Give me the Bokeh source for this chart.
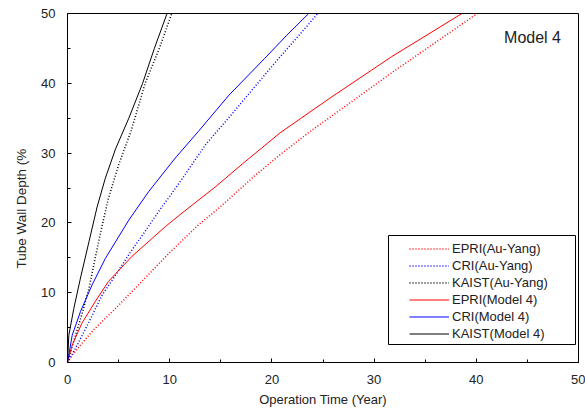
from bokeh.plotting import figure
from bokeh.models import Range1d, Legend, LegendItem, Label, FixedTicker, BoxAnnotation, Title
from bokeh.embed import file_html
from bokeh.resources import INLINE

# ---- data (time in years, depth in %) ----
epri_ay_t = [0, 0.46, 1.27, 2.7, 4.7, 6.8, 9.9, 12.8, 14.95, 18.2, 20.65, 23.65, 32.0, 40.1]
epri_ay_d = [0, 1.05, 2.5, 4.9, 7.75, 10.9, 15.6, 19.7, 22.3, 26.6, 29.6, 33.0, 41.8, 50]

cri_ay_t = [0, 0.95, 2.1, 3.4, 4.7, 6.2, 7.6, 8.9, 10.1, 11.4, 13.5, 15.8, 20.07, 24.5]
cri_ay_d = [0, 2.5, 5.8, 9.7, 12.5, 15.9, 18.8, 21.6, 24.0, 26.7, 31.2, 35.1, 42.55, 50]

kaist_ay_t = [0, 0.3, 0.78, 1.43, 2.1, 2.7, 3.4, 4.0, 5.0, 6.2, 7.6, 8.99, 10.2]
kaist_ay_d = [0, 1.5, 3.9, 7.0, 10.6, 14.9, 19.7, 23.5, 28.3, 33.1, 40, 45, 50]

epri_m4_t = [0, 0.46, 1.4, 2.7, 4.0, 6.3, 9.6, 11.2, 14.5, 17.4, 20.8, 25.6, 31.7, 38.6]
epri_m4_d = [0, 2.5, 5.6, 8.7, 11.6, 15.2, 19.5, 21.4, 25.2, 28.8, 32.9, 37.8, 43.8, 50]

cri_m4_t = [0, 0.46, 1.27, 2.4, 3.7, 6.0, 7.95, 10.55, 12.8, 15.8, 19.25, 21.4, 23.6]
cri_m4_d = [0, 3.9, 7.3, 11.1, 14.9, 20.4, 24.5, 29.3, 33.1, 38.3, 43.5, 46.8, 50]

kaist_m4_t = [0, 0.13, 0.62, 1.27, 2.1, 2.9, 3.7, 4.7, 6.0, 7.35, 8.5, 9.74]
kaist_m4_d = [0, 3.9, 7.75, 12.1, 17.3, 22.3, 26.4, 30.6, 35, 40, 45, 50]

series_labels = ["EPRI(Au-Yang)", "CRI(Au-Yang)", "KAIST(Au-Yang)",
                 "EPRI(Model 4)", "CRI(Model 4)", "KAIST(Model 4)"]
x_ticks = [0, 10, 20, 30, 40, 50]
y_ticks = [0, 10, 20, 30, 40, 50]
minor_ticks = [5, 15, 25, 35, 45]

FONT = "Liberation Sans"
TXT = "#222222"

p = figure(width=585, height=413, output_backend="svg", toolbar_location=None,
           x_range=Range1d(0, 50), y_range=Range1d(0, 50),
           min_border_left=67, min_border_right=7, min_border_top=13, min_border_bottom=51)
p.background_fill_color = "white"
p.border_fill_color = "white"
p.outline_line_color = "black"
p.outline_line_width = 1
p.grid.visible = False

for ax in (p.xaxis[0], p.yaxis[0]):
    ax.axis_line_color = "black"
    ax.major_tick_in = 4
    ax.major_tick_out = 0
    ax.minor_tick_in = 3
    ax.minor_tick_out = 0
    ax.major_tick_line_color = "black"
    ax.minor_tick_line_color = "black"
    ax.major_label_text_font = FONT
    ax.major_label_text_font_size = "13px"
    ax.major_label_text_color = TXT
    ax.axis_label_text_font = FONT
    ax.axis_label_text_font_size = "13px"
    ax.axis_label_text_font_style = "normal"
    ax.axis_label_text_color = TXT

p.xaxis[0].ticker = FixedTicker(ticks=x_ticks, minor_ticks=minor_ticks)
p.yaxis[0].ticker = FixedTicker(ticks=y_ticks, minor_ticks=minor_ticks)

p.xaxis.axis_label = "Operation Time (Year)"
p.xaxis.major_label_standoff = 12
p.xaxis.axis_label_standoff = 5
p.yaxis.major_label_standoff = 12

# y-axis title as a side title, so its position along the axis can be set
p.add_layout(Title(text="Tube Wall Depth (%", align="left", offset=94, standoff=20,
                   text_font=FONT, text_font_size="13.5px", text_font_style="normal",
                   text_color=TXT), "left")

r1 = p.line(epri_ay_t, epri_ay_d, line_color="#ff0000", line_width=1.5, line_dash="1 2")
r2 = p.line(cri_ay_t, cri_ay_d, line_color="#0000ff", line_width=1.5, line_dash="1 2")
r3 = p.line(kaist_ay_t, kaist_ay_d, line_color="black", line_width=1.5, line_dash="1 2")
r4 = p.line(epri_m4_t, epri_m4_d, line_color="#ff0000", line_width=1)
r5 = p.line(cri_m4_t, cri_m4_d, line_color="#0000ff", line_width=1)
r6 = p.line(kaist_m4_t, kaist_m4_d, line_color="black", line_width=1)

# legend frame (screen px relative to the plot frame)
p.add_layout(BoxAnnotation(left=321, right=508, bottom=18, top=127,
                           left_units="screen", right_units="screen",
                           bottom_units="screen", top_units="screen",
                           fill_color="white", fill_alpha=1,
                           line_color="black", line_width=1, line_alpha=1))

items = [LegendItem(label=lab, renderers=[r]) for lab, r in
         zip(series_labels, [r1, r2, r3, r4, r5, r6])]
legend = Legend(items=items, location=(342, 21),
                label_text_font=FONT, label_text_font_size="13px",
                label_text_color=TXT,
                glyph_width=40, glyph_height=15, label_height=15, spacing=2,
                padding=5, margin=0, label_standoff=3,
                border_line_color=None, background_fill_alpha=0)
p.add_layout(legend)

p.add_layout(Label(x=45.5, y=46.5, text="Model 4", text_font=FONT,
                   text_font_size="16px", text_align="center",
                   text_baseline="middle", text_color=TXT))

open("out.html", "w").write(file_html(p, INLINE))
